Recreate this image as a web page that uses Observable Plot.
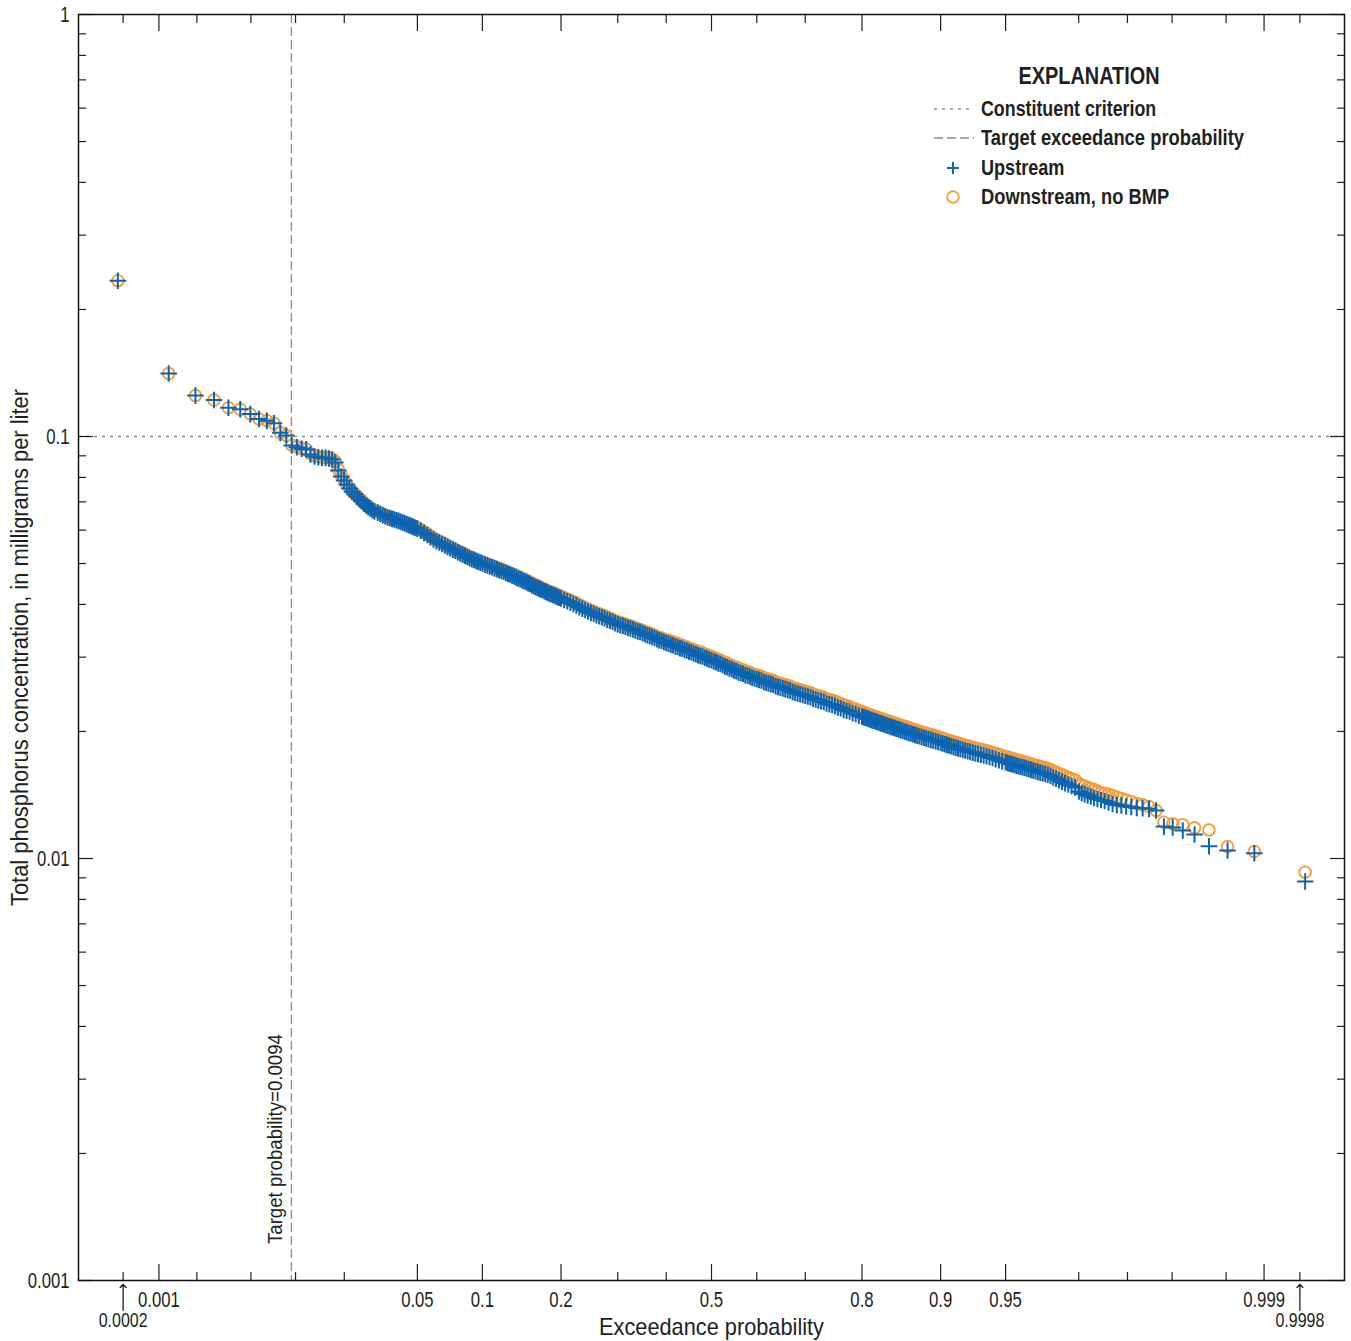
<!DOCTYPE html>
<html><head><meta charset="utf-8">
<script src="https://cdn.jsdelivr.net/npm/d3@7"></script>
<script src="https://cdn.jsdelivr.net/npm/@observablehq/plot@0.6"></script>
<style>
body{margin:0;background:#fff;}
#wrap{position:relative;width:1351px;height:1341px;font-family:'Liberation Sans',Arial,sans-serif;color:#231f20;}
#legend .t{position:absolute;font-weight:bold;font-size:22px;white-space:nowrap;line-height:24px;}
#legend svg{position:absolute;overflow:visible;}
</style></head><body><div id="wrap"></div>
<script>
// ---- data ----
const exceedance = [
0.00045,0.0012,0.00195,0.0027,0.00345,0.0042,0.00495,0.0057,0.00645,0.0072,
0.00795,0.0087,0.00945,0.0102,0.01095,0.0117,0.01245,0.0132,0.01395,0.0147,
0.01545,0.0162,0.01695,0.0177,0.01845,0.0192,0.01995,0.0207,0.02145,0.0222,
0.02295,0.0237,0.02445,0.0252,0.02595,0.0267,0.02745,0.0282,0.02895,0.0297,
0.031,0.032,0.033,0.034,0.035,0.036,0.037,0.038,0.039,0.040,
0.041,0.042,0.043,0.044,0.045,0.046,0.047,0.048,0.049,0.050,
0.052,0.054,0.056,0.058,0.060,0.062,0.064,0.066,0.068,0.070,
0.072,0.074,0.076,0.078,0.080,0.082,0.084,0.086,0.088,0.090,
0.092,0.094,0.096,0.098,0.100,
0.1025,0.105,0.1075,0.11,0.1125,0.115,0.1175,0.12,0.1225,0.125,
0.1275,0.13,0.1325,0.135,0.1375,0.14,0.1425,0.145,0.1475,0.15,
0.1525,0.155,0.1575,0.16,0.1625,0.165,0.1675,0.17,0.1725,0.175,
0.1775,0.18,0.1825,0.185,0.1875,0.19,0.1925,0.195,0.1975,0.2,
0.205,0.21,0.215,0.22,0.225,0.23,0.235,0.24,0.245,0.25,
0.255,0.26,0.265,0.27,0.275,0.28,0.285,0.29,0.295,0.3,
0.305,0.31,0.315,0.32,0.325,0.33,0.335,0.34,0.345,0.35,
0.355,0.36,0.365,0.37,0.375,0.38,0.385,0.39,0.395,0.4,
0.405,0.41,0.415,0.42,0.425,0.43,0.435,0.44,0.445,0.45,
0.455,0.46,0.465,0.47,0.475,0.48,0.485,0.49,0.495,0.5,
0.505,0.51,0.515,0.52,0.525,0.53,0.535,0.54,0.545,0.55,
0.555,0.56,0.565,0.57,0.575,0.58,0.585,0.59,0.595,0.6,
0.605,0.61,0.615,0.62,0.625,0.63,0.635,0.64,0.645,0.65,
0.655,0.66,0.665,0.67,0.675,0.68,0.685,0.69,0.695,0.7,
0.705,0.71,0.715,0.72,0.725,0.73,0.735,0.74,0.745,0.75,
0.755,0.76,0.765,0.77,0.775,0.78,0.785,0.79,0.795,0.8,
0.8025,0.805,0.8075,0.81,0.8125,0.815,0.8175,0.82,0.8225,0.825,
0.8275,0.83,0.8325,0.835,0.8375,0.84,0.8425,0.845,0.8475,0.85,
0.8525,0.855,0.8575,0.86,0.8625,0.865,0.8675,0.87,0.8725,0.875,
0.8775,0.88,0.8825,0.885,0.8875,0.89,0.8925,0.895,0.8975,0.9,
0.902,0.904,0.906,0.908,0.91,0.912,0.914,0.916,0.918,0.92,
0.922,0.924,0.926,0.928,0.93,0.932,0.934,0.936,0.938,0.94,
0.942,0.944,0.946,0.948,0.95,
0.951,0.952,0.953,0.954,0.955,0.956,0.957,0.958,0.959,0.96,
0.961,0.962,0.963,0.964,0.965,0.966,0.967,0.968,0.969,0.97,
0.971,0.972,0.973,0.974,0.975,0.976,0.977,0.978,0.979,
0.98005,0.9808,0.98155,0.9823,0.98305,0.9838,0.98455,0.9853,0.98605,0.9868,
0.98755,0.9883,0.98905,0.9898,0.99055,0.9913,0.99205,0.9928,0.99355,0.9943,
0.99505,0.9958,0.99655,0.9973,0.99805,0.9988,0.99955
];
const upstream = [
0.234,0.141,0.125,0.122,0.117,0.116,0.113,0.110,0.109,0.1075,
0.102,0.1005,0.0952,0.0943,0.0935,0.0932,0.0907,0.0897,0.0893,0.0890,
0.0890,0.0887,0.0882,0.0868,0.0831,0.0804,0.0787,0.0769,0.0753,0.0740,
0.0730,0.0720,0.0711,0.0703,0.0693,0.0686,0.0680,0.0675,0.0669,0.0664,
0.0660,0.0655,0.0651,0.0647,0.0643,0.0641,0.0638,0.0636,0.0633,0.0631,
0.0628,0.0625,0.0623,0.0620,0.0617,0.0615,0.0612,0.0610,0.0607,0.0605,
0.0598,0.0591,0.0584,0.0577,0.0570,0.0565,0.0561,0.0556,0.0552,0.0547,
0.0543,0.0539,0.0536,0.0532,0.0528,0.0525,0.0522,0.0518,0.0515,0.0512,
0.0510,0.0507,0.0505,0.0502,0.0500,
0.0497,0.0495,0.0492,0.0490,0.0487,0.0485,0.0482,0.0480,0.0478,0.0475,
0.0473,0.0471,0.0468,0.0466,0.0463,0.0461,0.0459,0.0456,0.0454,0.0452,
0.0449,0.0447,0.0444,0.0442,0.0440,0.0438,0.0436,0.0434,0.0432,0.0430,
0.0428,0.0426,0.0424,0.0423,0.0421,0.0420,0.0418,0.0416,0.0415,0.0413,
0.0410,0.0407,0.0404,0.0401,0.0398,0.0394,0.0391,0.0388,0.0385,0.0382,
0.0380,0.0377,0.0375,0.0373,0.0371,0.0368,0.0366,0.0364,0.0361,0.0359,
0.0357,0.0356,0.0354,0.0352,0.0351,0.0349,0.0347,0.0345,0.0344,0.0342,
0.0340,0.0338,0.0337,0.0335,0.0333,0.0331,0.0329,0.0328,0.0326,0.0324,
0.0323,0.0321,0.0320,0.0318,0.0317,0.0315,0.0314,0.0312,0.0311,0.0309,
0.0308,0.0306,0.0305,0.0303,0.0302,0.0301,0.0299,0.0298,0.0296,0.0295,
0.0293,0.0292,0.0290,0.0289,0.0287,0.0285,0.0284,0.0282,0.0281,0.0279,
0.0278,0.0276,0.0275,0.0274,0.0272,0.0271,0.0270,0.0268,0.0267,0.0266,
0.0265,0.0264,0.0262,0.0261,0.0260,0.0259,0.0258,0.0256,0.0255,0.0254,
0.0253,0.0252,0.0251,0.0250,0.0248,0.0247,0.0246,0.0245,0.0244,0.0243,
0.0242,0.0241,0.0239,0.0238,0.0237,0.0236,0.0235,0.0233,0.0232,0.0231,
0.0230,0.0228,0.0227,0.0225,0.0224,0.0223,0.0221,0.0220,0.0218,0.0217,
0.02163,0.02156,0.02149,0.02142,0.02135,0.02128,0.02121,0.02114,0.02107,0.02100,
0.02093,0.02086,0.02079,0.02072,0.02065,0.02058,0.02051,0.02044,0.02037,0.02030,
0.02023,0.02015,0.02008,0.02000,0.01993,0.01985,0.01978,0.01970,0.01963,0.01955,
0.01948,0.01940,0.01933,0.01925,0.01918,0.01910,0.01903,0.01895,0.01888,0.01880,
0.01873,0.01866,0.01859,0.01852,0.01845,0.01838,0.01831,0.01824,0.01817,0.01810,
0.01803,0.01796,0.01789,0.01782,0.01775,0.01768,0.01761,0.01754,0.01747,0.01740,
0.01730,0.01720,0.01710,0.01700,0.01690,
0.01685,0.01680,0.01675,0.01670,0.01665,0.01660,0.01655,0.01650,0.01645,0.01640,
0.01634,0.01628,0.01622,0.01616,0.01610,0.01604,0.01598,0.01592,0.01586,0.01580,
0.01568,0.01556,0.01545,0.01533,0.01521,0.01509,0.01497,0.01485,0.01473,
0.01441,0.01429,0.01421,0.01410,0.01402,0.01391,0.01384,0.01376,0.01368,0.01357,
0.01346,0.01339,0.01335,0.01328,0.01324,0.01318,0.01316,0.01311,0.01299,0.01190,
0.01185,0.01165,0.01140,0.01069,0.01045,0.01029,0.00882
];
const downstream = [
0.234,0.141,0.125,0.122,0.117,0.116,0.113,0.110,0.109,0.1075,
0.102,0.1005,0.0954,0.0945,0.0937,0.0934,0.0910,0.0900,0.0896,0.0893,
0.0893,0.0890,0.0885,0.0872,0.0835,0.0808,0.0790,0.0772,0.0756,0.0743,
0.0733,0.0723,0.0714,0.0706,0.0696,0.0689,0.0683,0.0678,0.0672,0.0667,
0.0663,0.0658,0.0654,0.0650,0.0646,0.0644,0.0641,0.0639,0.0636,0.0634,
0.0631,0.0628,0.0626,0.0623,0.0620,0.0618,0.0615,0.0613,0.0610,0.0608,
0.0601,0.0595,0.0588,0.0581,0.0574,0.0569,0.0565,0.0560,0.0556,0.0551,
0.0547,0.0543,0.0540,0.0536,0.0532,0.0529,0.0526,0.0522,0.0519,0.0516,
0.0514,0.0511,0.0509,0.0506,0.0504,
0.0501,0.0499,0.0496,0.0494,0.0491,0.0489,0.0486,0.0484,0.0482,0.0479,
0.0477,0.0475,0.0473,0.0471,0.0468,0.0466,0.0464,0.0461,0.0459,0.0457,
0.0454,0.0452,0.0449,0.0447,0.0445,0.0443,0.0441,0.0439,0.0437,0.0435,
0.0433,0.0431,0.0429,0.0428,0.0426,0.0425,0.0423,0.0421,0.0420,0.0418,
0.0415,0.0412,0.0409,0.0406,0.0403,0.0399,0.0396,0.0393,0.0390,0.0387,
0.0385,0.0382,0.0380,0.0378,0.0376,0.0373,0.0371,0.0369,0.0366,0.0364,
0.0362,0.0361,0.0359,0.0357,0.0356,0.0354,0.0352,0.0350,0.0349,0.0347,
0.0345,0.0343,0.0342,0.0340,0.0338,0.0336,0.0334,0.0333,0.0331,0.0329,
0.0329,0.0327,0.0326,0.0324,0.0323,0.0321,0.0320,0.0318,0.0317,0.0315,
0.0314,0.0312,0.0311,0.0309,0.0308,0.0307,0.0305,0.0304,0.0302,0.0301,
0.0299,0.0298,0.0296,0.0295,0.0293,0.0291,0.0290,0.0288,0.0287,0.0285,
0.0284,0.0282,0.0281,0.0280,0.0278,0.0277,0.0276,0.0274,0.0273,0.0272,
0.0271,0.0270,0.0268,0.0267,0.0266,0.0265,0.0264,0.0262,0.0261,0.0260,
0.0259,0.0258,0.0257,0.0256,0.0254,0.0253,0.0252,0.0251,0.0250,0.0249,
0.0248,0.0247,0.0245,0.0244,0.0243,0.0242,0.0241,0.0239,0.0238,0.0237,
0.0236,0.0234,0.0233,0.0231,0.0230,0.0229,0.0227,0.0226,0.0224,0.0223,
0.02218,0.02211,0.02204,0.02197,0.02190,0.02183,0.02176,0.02169,0.02162,0.02155,
0.02148,0.02141,0.02134,0.02127,0.02120,0.02113,0.02106,0.02099,0.02092,0.02085,
0.02078,0.02070,0.02063,0.02055,0.02048,0.02040,0.02033,0.02025,0.02018,0.02010,
0.02003,0.01995,0.01988,0.01980,0.01973,0.01965,0.01958,0.01950,0.01943,0.01935,
0.01926,0.01919,0.01912,0.01905,0.01898,0.01891,0.01884,0.01877,0.01870,0.01863,
0.01856,0.01849,0.01842,0.01835,0.01828,0.01821,0.01814,0.01807,0.01800,0.01793,
0.01783,0.01773,0.01763,0.01753,0.01743,
0.01739,0.01734,0.01729,0.01724,0.01719,0.01714,0.01709,0.01704,0.01699,0.01694,
0.01688,0.01682,0.01676,0.01670,0.01664,0.01658,0.01652,0.01646,0.01640,0.01634,
0.01623,0.01612,0.01601,0.01590,0.01579,0.01568,0.01557,0.01546,0.01535,
0.01506,0.01494,0.01485,0.01473,0.01465,0.01457,0.01445,0.01433,0.01427,0.01419,
0.01410,0.01398,0.01388,0.01376,0.01365,0.01350,0.01340,0.01328,0.01299,0.01219,
0.01208,0.01202,0.01182,0.01169,0.01067,0.01039,0.00928
];
const xMajorTicks = [0.001,0.05,0.1,0.2,0.5,0.8,0.9,0.95,0.999];
const xMinorTicks = [0.0005,0.002,0.005,0.01,0.02,0.3,0.4,0.6,0.7,0.98,0.99,0.995,0.998,0.9995];
const xEndLabels = [{p:0.0005,label:"0.0002"},{p:0.9995,label:"0.9998"}];
const xDomain = [0.0002,0.9998];
const yMajorTicks = [0.001,0.01,0.1,1];
const yMinorTicks = [0.002,0.003,0.004,0.005,0.006,0.007,0.008,0.009,
  0.02,0.03,0.04,0.05,0.06,0.07,0.08,0.09,0.2,0.3,0.4,0.5,0.6,0.7,0.8,0.9];
const constituentCriterion = 0.1;
const targetProbability = 0.0094;
const legendItems = ["Constituent criterion","Target exceedance probability","Upstream","Downstream, no BMP"];

// ---- normal probability (probit) transform ----
function probit(p){
  const a=[-3.969683028665376e+01,2.209460984245205e+02,-2.759285104469687e+02,1.383577518672690e+02,-3.066479806614716e+01,2.506628277459239e+00];
  const b=[-5.447609879822406e+01,1.615858368580409e+02,-1.556989798598866e+02,6.680131188771972e+01,-1.328068155288572e+01];
  const c=[-7.784894002430293e-03,-3.223964580411365e-01,-2.400758277161838e+00,-2.549732539343734e+00,4.374664141464968e+00,2.938163982698783e+00];
  const d=[7.784695709041462e-03,3.224671290700398e-01,2.445134137142996e+00,3.754408661907416e+00];
  const pl=0.02425;
  let q,r;
  if(p<pl){q=Math.sqrt(-2*Math.log(p));return (((((c[0]*q+c[1])*q+c[2])*q+c[3])*q+c[4])*q+c[5])/((((d[0]*q+d[1])*q+d[2])*q+d[3])*q+1);}
  if(p<=1-pl){q=p-0.5;r=q*q;return (((((a[0]*r+a[1])*r+a[2])*r+a[3])*r+a[4])*r+a[5])*q/(((((b[0]*r+b[1])*r+b[2])*r+b[3])*r+b[4])*r+1);}
  q=Math.sqrt(-2*Math.log(1-p));return -(((((c[0]*q+c[1])*q+c[2])*q+c[3])*q+c[4])*q+c[5])/((((d[0]*q+d[1])*q+d[2])*q+d[3])*q+1);
}

const rows = exceedance.map((p,i)=>({p, up:upstream[i], down:downstream[i]}));
const xLabel = new Map(xMajorTicks.map(p=>[probit(p), String(p)]));
const BLUE = "#0a64b2", ORANGE = "#f59d3d", GRAY = "#8c8c8c";
const FONT = "'Liberation Sans',Arial,sans-serif";

const chart = Plot.plot({
  width:1351, height:1341,
  marginLeft:78, marginRight:7, marginTop:14, marginBottom:61,
  style:{fontFamily:FONT, fontSize:"22px", background:"#fff", color:"#231f20", overflow:"visible"},
  x:{type:"linear", domain:xDomain.map(probit)},
  y:{type:"log", domain:[0.001,1]},
  marks:[
    Plot.ruleY([constituentCriterion], {stroke:GRAY, strokeWidth:1.3, strokeDasharray:"3,5"}),
    Plot.ruleX([targetProbability], {x:d=>probit(d), stroke:GRAY, strokeWidth:1.3, strokeDasharray:"9,4"}),
    Plot.text(["Target probability=0.0094"], {x:[probit(targetProbability)], y:[0.00122], text:d=>d, rotate:-90, textAnchor:"start", lineAnchor:"middle", dx:-16, fontSize:20}),
    Plot.dot(rows, {x:d=>probit(d.p), y:"down", symbol:"circle", r:5.8, stroke:ORANGE, strokeWidth:1.9, fill:"none"}),
    Plot.dot(rows, {x:d=>probit(d.p), y:"up", symbol:"plus", r:5.4, stroke:BLUE, strokeWidth:2}),
    Plot.axisX(xMajorTicks.map(probit), {anchor:"bottom", tickSize:-16, tickPadding:27, tickFormat:z=>xLabel.get(z), label:null, strokeWidth:1.2}),
    Plot.axisX(xMinorTicks.map(probit), {anchor:"bottom", tickSize:-8, tickFormat:()=>"", label:null, strokeWidth:1.2}),
    Plot.axisX(xMajorTicks.map(probit), {anchor:"top", tickSize:-16, tickFormat:()=>"", label:null, strokeWidth:1.2}),
    Plot.axisX(xMinorTicks.map(probit), {anchor:"top", tickSize:-8, tickFormat:()=>"", label:null, strokeWidth:1.2}),
    Plot.axisY(yMajorTicks, {anchor:"left", tickSize:-15, tickPadding:24, tickFormat:d=>String(d), label:null, strokeWidth:1.2}),
    Plot.axisY(yMinorTicks, {anchor:"left", tickSize:-8, tickFormat:()=>"", label:null, strokeWidth:1.2}),
    Plot.axisY(yMajorTicks, {anchor:"right", tickSize:-15, tickFormat:()=>"", label:null, strokeWidth:1.2}),
    Plot.axisY(yMinorTicks, {anchor:"right", tickSize:-8, tickFormat:()=>"", label:null, strokeWidth:1.2}),
    Plot.frame({stroke:"#111", strokeWidth:1.5}),
    Plot.vector(xEndLabels, {x:d=>probit(d.p), frameAnchor:"bottom", dy:30, length:26, rotate:0, anchor:"start", r:2, stroke:"#111", strokeWidth:1.2}),
    Plot.text(xEndLabels, {x:d=>probit(d.p), frameAnchor:"bottom", dy:40, text:"label", textAnchor:"middle", lineAnchor:"middle", fontSize:21}),
    Plot.text(["Exceedance probability"], {frameAnchor:"bottom", dy:47, text:d=>d, textAnchor:"middle", lineAnchor:"middle", fontSize:24}),
    Plot.text(["Total phosphorus concentration, in milligrams per liter"], {frameAnchor:"left", dx:-58, rotate:-90, text:d=>d, textAnchor:"middle", lineAnchor:"middle", fontSize:23})
  ]
});
const wrap = document.getElementById("wrap");
wrap.appendChild(chart);

// condensed lettering (the reference uses a condensed face)
const textTargets = {"Exceedance probability":225, "Target probability=0.0094":210};
chart.querySelectorAll("text").forEach(t=>{
  const s = t.textContent;
  if(!s) return;
  const L = t.getComputedTextLength();
  if(!L) return;
  let target = textTargets[s];
  if(target===undefined) target = s.startsWith("Total phosphorus") ? 517 : L*0.76;
  t.setAttribute("textLength", target.toFixed(1));
  t.setAttribute("lengthAdjust","spacingAndGlyphs");
});

// ---- legend (EXPLANATION) ----
const lg = document.createElement("div");
lg.id = "legend";
const rowsY = [109,138,168,197];
let html = `<div class="t" id="lgTitle" style="left:1089px;top:64px;font-size:23px;">EXPLANATION</div>`;
const sw = [
  `<line x1="4" x2="42" y1="12" y2="12" stroke="${GRAY}" stroke-width="1.3" stroke-dasharray="3,5"/>`,
  `<line x1="4" x2="44" y1="12" y2="12" stroke="${GRAY}" stroke-width="1.3" stroke-dasharray="9,4"/>`,
  `<path d="M17.1 12H28.9M23 6.1V17.9" stroke="${BLUE}" stroke-width="2" fill="none"/>`,
  `<circle cx="23" cy="12" r="5.8" stroke="${ORANGE}" stroke-width="1.9" fill="none"/>`
];
legendItems.forEach((t,i)=>{
  html += `<svg width="48" height="24" style="left:930px;top:${rowsY[i]-12}px">${sw[i]}</svg>`;
  html += `<div class="t item" style="left:981px;top:${rowsY[i]-12}px">${t}</div>`;
});
lg.innerHTML = html;
wrap.appendChild(lg);
const itemTargets = [175,263,83,188];
lg.querySelectorAll(".item").forEach((el,i)=>{
  const f = itemTargets[i]/el.offsetWidth;
  el.style.transformOrigin = "0 50%";
  el.style.transform = `scaleX(${f.toFixed(3)})`;
});
const tt = document.getElementById("lgTitle");
tt.style.transform = `translateX(-50%) scaleX(${(141/tt.offsetWidth).toFixed(3)})`;
</script></body></html>
